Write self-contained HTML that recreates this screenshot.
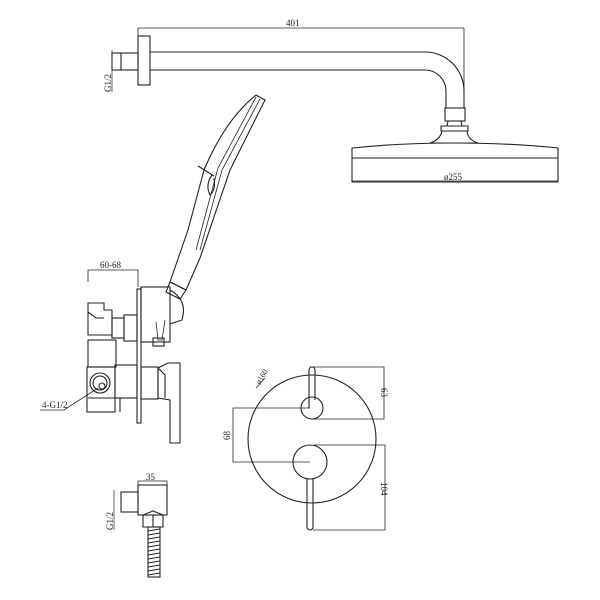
<!DOCTYPE html>
<html><head><style>body{margin:0;background:#fff}svg{display:block}</style></head><body>
<svg width="600" height="600" viewBox="0 0 600 600" xmlns="http://www.w3.org/2000/svg" fill="none" stroke="#222" stroke-width="1.1" font-family="Liberation Serif, serif" font-size="9">
<!-- top arm -->
<line x1="138" y1="28" x2="464" y2="28" stroke-width="0.8"/>
<line x1="138" y1="28" x2="138" y2="38" stroke-width="0.8"/>
<line x1="464" y1="28" x2="464" y2="100" stroke-width="0.8"/>
<text x="286" y="26" fill="#222" stroke="none">401</text>
<rect x="138" y="36" width="12" height="49"/>
<rect x="112" y="53" width="26" height="17"/>
<line x1="121" y1="53" x2="121" y2="70"/>
<line x1="112" y1="50" x2="112" y2="92" stroke-width="0.7"/>
<text transform="translate(111,92) rotate(-90)" fill="#222" stroke="none">G1/2</text>
<path d="M150 52 H425 A39 39 0 0 1 464 91 V108"/>
<path d="M150 70 H425 A21 21 0 0 1 446 91 V108"/>
<rect x="445" y="108" width="20" height="13"/>
<path d="M448 121 L447 126 H462 L461 121"/>
<path d="M441 126 H468 V131 H441 Z"/>
<path d="M442 131 Q440 140 430 143 H478 Q468 140 467 131"/>
<path d="M352 148 Q400 143 455 143 Q510 143 558 148 V182 H352 Z"/>
<line x1="352" y1="158" x2="558" y2="158"/>
<line x1="352" y1="181" x2="558" y2="181" stroke-width="0.7"/>
<text x="444" y="180" fill="#222" stroke="none">ø255</text>
<!-- hand shower -->
<path d="M256 95 L265 100 L230 170 L200 258 L186 290 L170 282 L188 230 L204 170 Q225 120 256 95 Z"/>
<path d="M256 97 L218 168 L196 250" stroke-width="0.8"/>
<path d="M260 99 L222 170 L200 250" stroke-width="0.8"/>
<path d="M198 166 L214 176" />
<path d="M212 175 Q205 185 210 195 Q216 190 214 178"/>
<path d="M170 282 L186 290 L180 299 L166 292 Z"/>
<!-- valve -->
<path d="M88 282 V270 H138 V287" stroke-width="0.8"/>
<text x="100" y="268" fill="#222" stroke="none">60-68</text>
<rect x="137" y="289" width="4" height="134"/>
<path d="M88 303 H104 V310 H112 V335 H88 Z"/>
<path d="M88 312 L96 318 H104"/>
<rect x="112" y="318" width="12" height="20"/>
<rect x="124" y="315" width="13" height="26"/>
<rect x="88" y="340" width="28" height="27"/>
<rect x="87" y="367" width="28" height="45"/>
<circle cx="100" cy="383" r="10"/><circle cx="100" cy="383" r="7"/><circle cx="102" cy="386" r="3"/>
<path d="M88 398 H120 V412"/>
<path d="M98 388 L64 410 H40" stroke-width="0.8"/>
<text x="42" y="408" fill="#222" stroke="none">4-G1/2</text>
<rect x="115" y="365" width="22" height="33"/>
<rect x="141" y="367" width="17" height="32"/>
<path d="M158 368 L168 363 H180 V443 H170 V400 L158 398 Z"/>
<path d="M158 368 L165 375 V398"/>
<rect x="141" y="287" width="29" height="55"/>
<path d="M170 290 Q188 300 182 320 L170 324"/>
<path d="M165 320 L162 340 L158 340 L156 322" stroke-width="0.8"/>
<rect x="153" y="338" width="11" height="8"/>
<!-- round plate -->
<circle cx="312" cy="439" r="64"/>
<circle cx="312" cy="408" r="11"/>
<path d="M309 408 V370 A3 3 0 0 1 315 370 V400"/>
<circle cx="310" cy="462" r="17"/>
<path d="M307 478 V527 A3 3 0 0 0 313 527 V478"/>
<path d="M310 367 H384 V419 H312" stroke-width="0.8"/>
<text transform="translate(381,388) rotate(90)" fill="#222" stroke="none">63</text>
<path d="M314 445 H385 V530 H313" stroke-width="0.8"/>
<text transform="translate(381,482) rotate(90)" fill="#222" stroke="none">104</text>
<path d="M310 408 H233 V462 H310" stroke-width="0.8"/>
<text transform="translate(230,440) rotate(-90)" fill="#222" stroke="none">68</text>
<line x1="256" y1="388" x2="265" y2="378" stroke-width="0.7"/>
<text transform="translate(260,385) rotate(-60)" fill="#222" stroke="none" font-size="8">ø160</text>
<!-- bottom elbow -->
<path d="M138 485 V481 H167 V485" stroke-width="0.8"/>
<text x="146" y="480" fill="#222" stroke="none">35</text>
<rect x="138" y="485" width="29" height="30"/>
<rect x="121" y="492" width="17" height="20"/>
<line x1="114" y1="490" x2="114" y2="530" stroke-width="0.7"/>
<text transform="translate(113,530) rotate(-90)" fill="#222" stroke="none">G1/2</text>
<path d="M143 515 L153 511 L163 515 V527 H143 Z"/>
<line x1="153" y1="515" x2="153" y2="527"/>
<rect x="148" y="527" width="12" height="50"/>
<path d="M148 531 L160 529 M148 535 L160 533 M148 539 L160 537 M148 543 L160 541 M148 547 L160 545 M148 551 L160 549 M148 555 L160 553 M148 559 L160 557 M148 563 L160 561 M148 567 L160 565 M148 571 L160 569 M148 575 L160 573"/>
</svg>
</body></html>
